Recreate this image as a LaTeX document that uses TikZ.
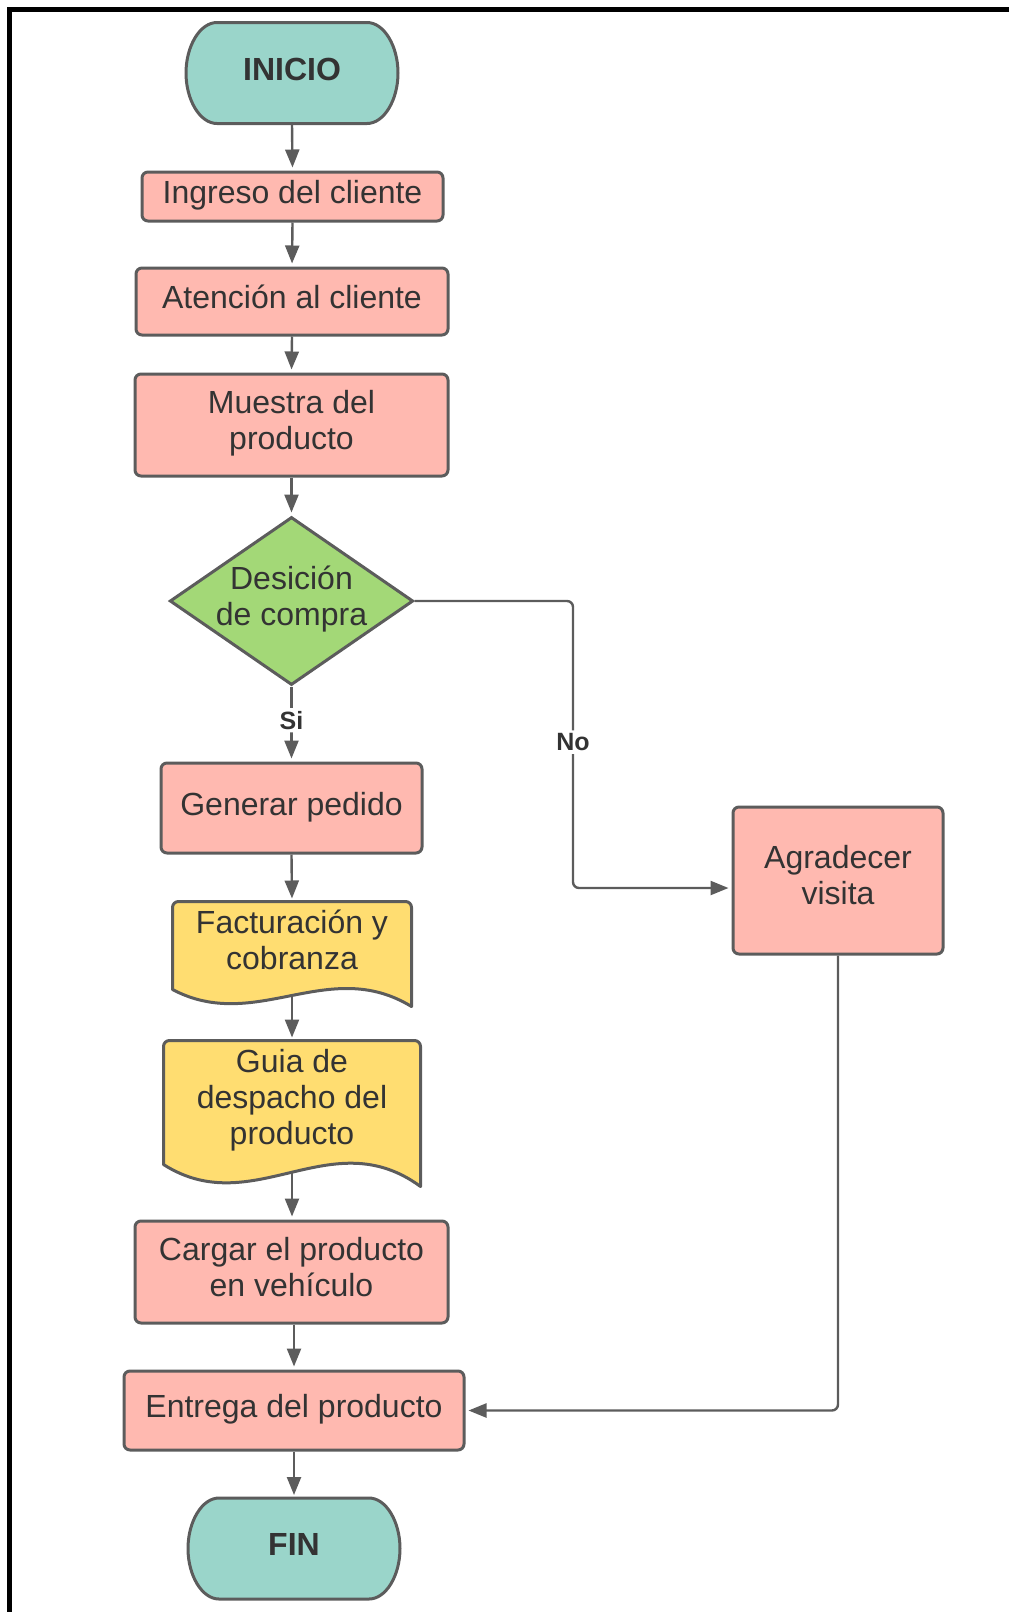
\documentclass[tikz,border=0pt]{standalone}
\usepackage{fontspec}
\setmainfont{Liberation Sans}
\usetikzlibrary{shapes.geometric,arrows.meta,calc,backgrounds}
\definecolor{cterm}{HTML}{9AD5CA}
\definecolor{cproc}{HTML}{FFB9B0}
\definecolor{cdoc}{HTML}{FFDD71}
\definecolor{cdec}{HTML}{A3D877}
\definecolor{cline}{HTML}{5C5C5C}
\definecolor{ctext}{HTML}{333333}
\tikzset{
  base/.style={draw=cline, line width=1.5pt, text=ctext, align=center, inner sep=0pt, font=\fontsize{16}{18}\selectfont,
    execute at begin node=\strut, execute at end node=\strut},
  term/.style={base, rectangle, draw=none, minimum width=104.5pt, minimum height=49pt, font=\fontsize{16}{18}\selectfont\bfseries},
  proc/.style={base, rectangle, rounded corners=3pt, fill=cproc},
  dec/.style={base, diamond, aspect=1.45, inner sep=-1pt, fill=cdec},
  doc/.style={base, rectangle, draw=none},
  line/.style={draw=cline, line width=1.2pt, -{Triangle[length=9pt,width=7pt]}, shorten >=1.5pt, rounded corners=3pt},
  lbl/.style={fill=white, text=ctext, inner sep=1.5pt, font=\fontsize{12.5}{14}\selectfont\bfseries},
}
% document shape with wavy bottom
\newcommand{\docshape}[2]{%
  \filldraw[draw=cline, fill=cdoc, line width=1.5pt, line join=round]
    (#1.south west) [rounded corners=3pt] -- (#1.north west) -- (#1.north east) [sharp corners]
    -- ($(#1.south east)+(0,#2)$)
    .. controls ($(#1.south west)!0.65!(#1.south east)+(0,-2*#2)$)
    and ($(#1.south west)!0.35!(#1.south east)+(0,2.6*#2)$) .. (#1.south west) -- cycle;}
% terminal with elliptic ends
\newcommand{\termshape}[1]{%
  \filldraw[draw=cline, fill=cterm, line width=1.5pt]
    ($(#1.north west)+(31,0)$) -- ($(#1.north east)+(-31,0)$)
    .. controls ($(#1.north east)+(-14,0)$) and ($(#1.east)+(0,-27)$) .. (#1.east)
    .. controls ($(#1.east)+(0,27)$) and ($(#1.south east)+(-14,0)$) .. ($(#1.south east)+(-31,0)$)
    -- ($(#1.south west)+(31,0)$)
    .. controls ($(#1.south west)+(14,0)$) and ($(#1.west)+(0,27)$) .. (#1.west)
    .. controls ($(#1.west)+(0,-27)$) and ($(#1.north west)+(14,0)$) .. ($(#1.north west)+(31,0)$) -- cycle;}
\begin{document}
\begin{tikzpicture}[x=0.5pt, y=-0.5pt]
\useasboundingbox (0,0) rectangle (1009,1612);
\draw[line width=2.2pt] (1009,9.5) -- (9.5,9.5) -- (9.5,1612);

\node[term] (inicio) at (292,73) {INICIO};
\node[proc, minimum width=150.5pt, minimum height=24.5pt] (ingreso) at (292.5,196.5) {Ingreso del cliente};
\node[proc, minimum width=156pt, minimum height=33.5pt] (atencion) at (292,301.5) {Atención al cliente};
\node[proc, minimum width=156.5pt, minimum height=51pt] (muestra) at (291.5,425) {Muestra del\\producto};
\node[dec, minimum width=121.5pt, minimum height=84pt] (decision) at (291.5,601) {Desición\\de compra};
\node[proc, minimum width=130.5pt, minimum height=45pt] (generar) at (291.5,808) {Generar pedido};
\node[doc, minimum width=118pt, minimum height=42.5pt] (factura) at (292,945.5) {Facturación y\\cobranza};
\node[doc, minimum width=127pt, minimum height=60.5pt] (guia) at (292,1102.5) {Guia de\\despacho del\\producto};
\node[proc, minimum width=156.5pt, minimum height=51pt] (cargar) at (291.5,1272) {Cargar el producto\\en vehículo};
\node[proc, minimum width=170pt, minimum height=39.5pt] (entrega) at (294,1410.5) {Entrega del producto};
\node[term] (fin) at (294,1548.5) {FIN};
\node[proc, minimum width=105pt, minimum height=73.5pt] (agradecer) at (838,880.5) {Agradecer\\visita};
\coordinate (nobend) at (573,888);

\begin{scope}[on background layer]
\draw[line] (inicio.south) -- (ingreso.north);
\draw[line] (ingreso.south) -- (atencion.north);
\draw[line] (atencion.south) -- (muestra.north);
\draw[line] (muestra.south) -- (decision.north);
\draw[line] (decision.south) -- node[lbl, pos=0.45] {Si} (generar.north);
\draw[line] (decision.east) -| node[lbl, pos=0.746] {No} (nobend) -- (agradecer.west |- nobend);
\draw[line] (generar.south) -- (factura.north);
\draw[line] (factura.south) -- (guia.north);
\draw[line] (guia.south) -- (guia.south |- cargar.north);
\draw[line] (cargar.south -| entrega.north) -- (entrega.north);
\draw[line] (entrega.south) -- (fin.north);
\draw[line] (agradecer.south) |- (entrega.east);
\docshape{factura}{17}
\docshape{guia}{22}
\termshape{inicio}
\termshape{fin}
\end{scope}
\end{tikzpicture}
\end{document}
